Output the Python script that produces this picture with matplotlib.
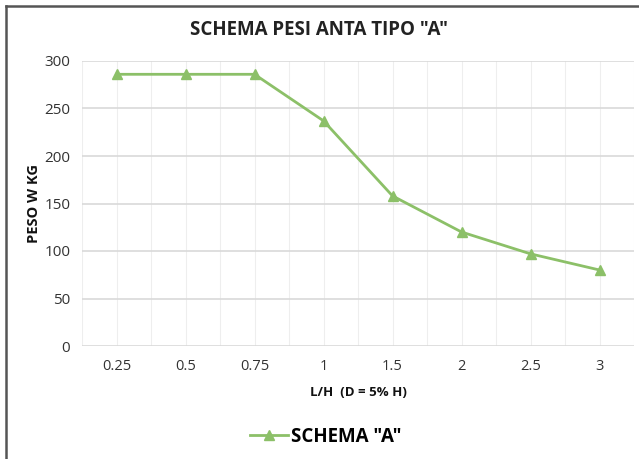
import matplotlib
matplotlib.use("Agg")
import matplotlib.pyplot as plt
from matplotlib.ticker import MultipleLocator
from matplotlib.lines import Line2D

categories = ["0.25", "0.5", "0.75", "1", "1.5", "2", "2.5", "3"]
weights = [286, 286, 286, 237, 158, 120, 97, 80]
series_name = 'SCHEMA "A"'
title = 'SCHEMA PESI ANTA TIPO "A"'
xlabel = "L/H  (D = 5% H)"
ylabel = "PESO W KG"

plt.rcParams['font.family'] = ['Open Sans', 'DejaVu Sans']

fig = plt.figure(figsize=(6.39, 4.59), dpi=100)
ax = fig.add_axes([82/639, 1-346/459, (634-82)/639, (346-61)/459])

green = "#8CC068"
x = list(range(len(categories)))
ax.plot(x, weights, color=green, lw=2, marker="^", ms=7.5, zorder=3)

ax.set_xlim(-0.5, len(categories)-0.5)
ax.set_ylim(0, 300)
ax.yaxis.set_major_locator(MultipleLocator(50))
ax.set_xticks(x)
ax.set_xticklabels(categories)
ax.set_xticks([i - 0.5 for i in range(len(categories)+1)], minor=True)
ax.grid(axis='y', which='major', color="#D9D9D9", lw=1.2)
ax.grid(axis='x', which='major', color="#EEEEEE", lw=0.8)
ax.grid(axis='x', which='minor', color="#EEEEEE", lw=0.8)
ax.set_axisbelow(True)
for s in ax.spines.values():
    s.set_visible(False)
ax.tick_params(which='both', length=0)
ax.tick_params(axis='x', pad=9, labelsize=10.5, colors="#333333")
ax.tick_params(axis='y', pad=8.5, labelsize=11, colors="#333333")

ax.set_xlabel(xlabel, fontsize=9.5, fontweight='bold', labelpad=9, color="#111111")
ax.set_ylabel(ylabel, fontsize=10.5, fontweight='bold', labelpad=2.5, color="#111111")
fig.text(0.5, 1-30/459, title, ha='center', va='center', fontsize=13.5,
         fontweight='bold', color="#222222")

handle = Line2D([], [], color=green, lw=2, marker="^", ms=7.5)
fig.legend([handle], [series_name], loc='center', bbox_to_anchor=(0.51, 1-437/459),
           frameon=False, prop={'weight': 'bold', 'size': 13.5}, handlelength=2.0,
           handletextpad=0.2)

# outer border (top and left)
fig.add_artist(Line2D([6/639, 6/639], [0, 1-6/459], color="#555555", lw=1.8,
                      transform=fig.transFigure))
fig.add_artist(Line2D([6/639, 1], [1-6/459, 1-6/459], color="#555555", lw=1.8,
                      transform=fig.transFigure))

fig.savefig("out.png", dpi=100)
